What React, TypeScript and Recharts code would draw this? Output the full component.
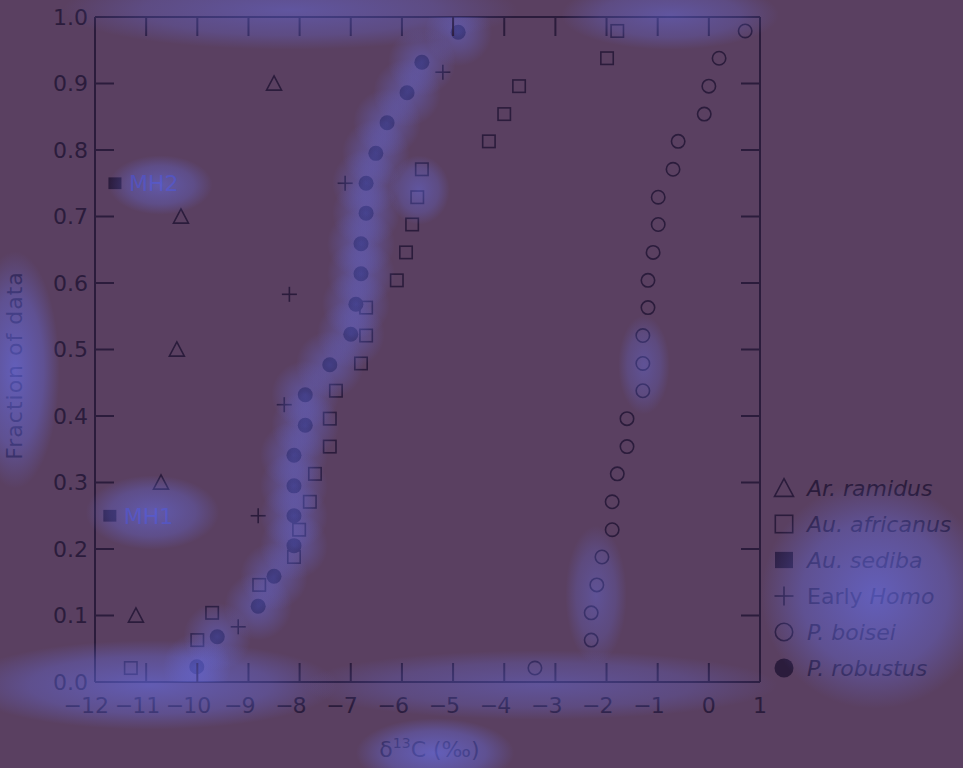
import React from 'react';
import { ScatterChart, Scatter, XAxis, YAxis, Legend } from 'recharts';

const INK = '#2b1c3c';
const BG = '#5a4061';
const FONT = '"DejaVu Sans", sans-serif';

const xTicks = [-12, -11, -10, -9, -8, -7, -6, -5, -4, -3, -2, -1, 0, 1];
const yTicks = [0, 0.1, 0.2, 0.3, 0.4, 0.5, 0.6, 0.7, 0.8, 0.9, 1.0];

const ramidusX = [-11.2, -10.71, -10.4, -10.32, -8.5];
const ramidusY = [0.1, 0.3, 0.5, 0.7, 0.9];

const africanusX = [-11.3, -10.0, -9.71, -8.79, -8.11, -8.01, -7.8, -7.7, -7.41, -7.41, -7.29, -6.8, -6.7, -6.7, -6.1, -5.92, -5.8, -5.7, -5.61, -4.3, -4.0, -3.71, -1.99, -1.79];
const africanusY = [0.021, 0.063, 0.104, 0.146, 0.188, 0.229, 0.271, 0.313, 0.354, 0.396, 0.438, 0.479, 0.521, 0.563, 0.604, 0.646, 0.688, 0.729, 0.771, 0.813, 0.854, 0.896, 0.938, 0.979];

const sedibaX = [-11.71, -11.61];
const sedibaY = [0.25, 0.75];
const sedibaNames = ['MH1', 'MH2'];

const homoX = [-9.2, -8.81, -8.3, -8.2, -7.11, -5.2];
const homoY = [0.083, 0.25, 0.417, 0.583, 0.75, 0.917];

const boiseiX = [-3.4, -2.3, -2.3, -2.19, -2.09, -1.89, -1.89, -1.79, -1.6, -1.6, -1.29, -1.29, -1.29, -1.19, -1.19, -1.09, -0.99, -0.99, -0.7, -0.6, -0.09, 0.0, 0.2, 0.71];
const boiseiY = [0.021, 0.063, 0.104, 0.146, 0.188, 0.229, 0.271, 0.313, 0.354, 0.396, 0.438, 0.479, 0.521, 0.563, 0.604, 0.646, 0.688, 0.729, 0.771, 0.813, 0.854, 0.896, 0.938, 0.979];

const robustusX = [-10.01, -9.61, -8.81, -8.5, -8.11, -8.11, -8.11, -8.11, -7.89, -7.89, -7.41, -7.0, -6.9, -6.8, -6.8, -6.7, -6.7, -6.51, -6.29, -5.9, -5.61, -4.9];
const robustusY = [0.023, 0.068, 0.114, 0.159, 0.205, 0.25, 0.295, 0.341, 0.386, 0.432, 0.477, 0.523, 0.568, 0.614, 0.659, 0.705, 0.75, 0.795, 0.841, 0.886, 0.932, 0.977];

const toPts = (xs: number[], ys: number[], names?: string[]) =>
  xs.map((x, i) => ({ x, y: ys[i], name: names ? names[i] : undefined }));

const ramidusData = toPts(ramidusX, ramidusY);
const africanusData = toPts(africanusX, africanusY);
const sedibaData = toPts(sedibaX, sedibaY, sedibaNames);
const homoData = toPts(homoX, homoY);
const boiseiData = toPts(boiseiX, boiseiY);
const robustusData = toPts(robustusX, robustusY);

type Kind = 'triangle' | 'square' | 'fsquare' | 'plus' | 'circle' | 'fcircle';

function drawSymbol(kind: Kind, cx: number, cy: number, s: number, color: string = INK) {
  const h = s / 2;
  const sw = 1.6;
  switch (kind) {
    case 'triangle': {
      const th = s * 0.88;
      const pts = `${cx},${cy - th / 2 - 1} ${cx + h},${cy + th / 2} ${cx - h},${cy + th / 2}`;
      return <polygon points={pts} fill="none" stroke={color} strokeWidth={sw} strokeLinejoin="miter" />;
    }
    case 'square':
      return <rect x={cx - h + 0.8} y={cy - h + 0.8} width={s - 1.6} height={s - 1.6} fill="none" stroke={color} strokeWidth={sw} />;
    case 'fsquare':
      return <rect x={cx - h} y={cy - h * 0.9} width={s} height={s * 0.9} fill={color} />;
    case 'plus':
      return (
        <g stroke={color} strokeWidth={sw}>
          <line x1={cx - h} x2={cx + h} y1={cy} y2={cy} />
          <line x1={cx} x2={cx} y1={cy - h} y2={cy + h} />
        </g>
      );
    case 'circle':
      return <circle cx={cx} cy={cy} r={h - 0.8} fill="none" stroke={color} strokeWidth={sw} />;
    case 'fcircle':
      return <circle cx={cx} cy={cy} r={h} fill={color} />;
  }
  return null;
}

const mkShape = (kind: Kind, size: number) => (p: any) => {
  if (p.cx == null || p.cy == null) return <g />;
  return <g>{drawSymbol(kind, p.cx, p.cy, size)}</g>;
};

const sedibaShape = (p: any) => {
  if (p.cx == null || p.cy == null) return <g />;
  const name = p.payload && p.payload.name;
  return (
    <g>
      {drawSymbol('fsquare', p.cx, p.cy, 13)}
      <text x={p.cx + 14} y={p.cy} dy="0.36em" fill="#4a44a0" fontSize={22} fontFamily={FONT}>
        {name}
      </text>
    </g>
  );
};

const glowShape = (p: any) => {
  if (p.cx == null || p.cy == null) return <g />;
  return <circle cx={p.cx} cy={p.cy} r={34} fill="url(#glowGrad)" />;
};

const LeftTick = (props: any) => {
  const { x, y, payload } = props;
  return (
    <g>
      <line x1={x} x2={x + 19} y1={y} y2={y} stroke={INK} strokeWidth={2} />
      <text x={x - 7} y={y} dy="0.36em" textAnchor="end" fill={INK} fontSize={22} fontFamily={FONT}>
        {Number(payload.value).toFixed(1)}
      </text>
    </g>
  );
};

const RightTick = (props: any) => {
  const { x, y } = props;
  return <line x1={x} x2={x - 19} y1={y} y2={y} stroke={INK} strokeWidth={2} />;
};

const TopTick = (props: any) => {
  const { x, y } = props;
  return <line x1={x} x2={x} y1={y} y2={y + 19} stroke={INK} strokeWidth={2} />;
};

const BottomTick = (props: any) => {
  const { x, y, payload } = props;
  const v = Number(payload.value);
  const digits = String(Math.abs(v));
  const dw = digits.length * 14;
  return (
    <g>
      <line x1={x} x2={x} y1={y} y2={y - 19} stroke={INK} strokeWidth={2} />
      <text x={x} y={y + 31} textAnchor="middle" fill={INK} fontSize={22} fontFamily={FONT}>
        {digits}
      </text>
      {v < 0 ? (
        <text x={x - dw / 2 + 1} y={y + 31} textAnchor="end" fill={INK} fontSize={22} fontFamily={FONT}>
          {'\u2212'}
        </text>
      ) : null}
    </g>
  );
};

const XLabel = (props: any) => {
  const vb = props.viewBox || {};
  const cx = vb.x + vb.width / 2 + 2;
  return (
    <text x={cx} y={757} textAnchor="middle" fill={INK} fontSize={22} fontFamily={FONT}>
      {'\u03B4'}
      <tspan fontSize={14} dy={-9}>13</tspan>
      <tspan dy={9}>C (‰)</tspan>
    </text>
  );
};

const YLabel = (props: any) => {
  const vb = props.viewBox || {};
  const cy = vb.y + vb.height / 2 + 16;
  return (
    <text x={22} y={cy} transform={`rotate(-90 22 ${cy})`} textAnchor="middle" fill={INK} fontSize={22} letterSpacing={1} fontFamily={FONT}>
      Fraction of data
    </text>
  );
};

const legendItems: { kind: Kind; parts: { t: string; i: boolean }[] }[] = [
  { kind: 'triangle', parts: [{ t: 'Ar. ramidus', i: true }] },
  { kind: 'square', parts: [{ t: 'Au. africanus', i: true }] },
  { kind: 'fsquare', parts: [{ t: 'Au. sediba', i: true }] },
  { kind: 'plus', parts: [{ t: 'Early ', i: false }, { t: 'Homo', i: true }] },
  { kind: 'circle', parts: [{ t: 'P. boisei', i: true }] },
  { kind: 'fcircle', parts: [{ t: 'P. robustus', i: true }] },
];

const renderLegend = () => (
  <div style={{ fontFamily: FONT, fontSize: 22, color: INK }}>
    {legendItems.map((it, k) => (
      <div key={k} style={{ height: 36, display: 'flex', alignItems: 'center', whiteSpace: 'nowrap' }}>
        <svg width={37} height={36} style={{ flex: 'none' }}>
          {drawSymbol(it.kind, 14, 18, it.kind === 'fsquare' ? 18 : 19)}
        </svg>
        <span>
          {it.parts.map((p, j) => (
            <span key={j} style={{ fontStyle: p.i ? 'italic' : 'normal' }}>{p.t}</span>
          ))}
        </span>
      </div>
    ))}
  </div>
);

// decorative highlight haze seen in the reference (not data)
const hazes = [
  { l: 760, t: 480, w: 230, h: 230, o: 0.6 },
  { l: -40, t: 640, w: 380, h: 90, o: 0.55 },
  { l: 300, t: 650, w: 480, h: 70, o: 0.38 },
  { l: 60, t: -30, w: 460, h: 80, o: 0.42 },
  { l: 560, t: -20, w: 220, h: 70, o: 0.42 },
  { l: -30, t: 250, w: 90, h: 240, o: 0.6 },
  { l: 355, t: 718, w: 160, h: 70, o: 0.6 },
  { l: 85, t: 475, w: 135, h: 75, o: 0.5 },
  { l: 108, t: 155, w: 105, h: 60, o: 0.48 },
  { l: 565, t: 525, w: 62, h: 140, o: 0.36 },
  { l: 618, t: 315, w: 52, h: 100, o: 0.36 },
  { l: 388, t: 155, w: 62, h: 70, o: 0.42 },
];

export default function App() {
  return (
    <div style={{ position: 'fixed', left: 0, top: 0, width: 963, height: 768, background: BG, overflow: 'hidden' }}>
      <svg width={0} height={0} style={{ position: 'absolute' }}>
        <defs>
          <radialGradient id="glowGrad">
            <stop offset="0%" stopColor="rgb(105,115,245)" stopOpacity={0.4} />
            <stop offset="50%" stopColor="rgb(105,115,245)" stopOpacity={0.22} />
            <stop offset="100%" stopColor="rgb(105,115,245)" stopOpacity={0} />
          </radialGradient>
        </defs>
      </svg>
      <ScatterChart width={963} height={768} margin={{ top: 16, right: 202, bottom: 0, left: 0 }}>
        <XAxis
          type="number"
          dataKey="x"
          domain={[-12, 1]}
          ticks={xTicks}
          allowDataOverflow
          height={86}
          tickSize={0}
          tickMargin={0}
          tick={BottomTick}
          axisLine={{ stroke: INK, strokeWidth: 2 }}
          label={XLabel}
        />
        <XAxis
          xAxisId="top"
          orientation="top"
          type="number"
          dataKey="x"
          domain={[-12, 1]}
          ticks={xTicks}
          allowDataOverflow
          height={1}
          tickSize={0}
          tickMargin={0}
          tick={TopTick}
          axisLine={{ stroke: INK, strokeWidth: 2 }}
        />
        <YAxis
          type="number"
          dataKey="y"
          domain={[0, 1]}
          ticks={yTicks}
          allowDataOverflow
          width={95}
          tickSize={0}
          tickMargin={0}
          tick={LeftTick}
          axisLine={{ stroke: INK, strokeWidth: 2 }}
          label={YLabel}
        />
        <YAxis
          yAxisId="right"
          orientation="right"
          type="number"
          dataKey="y"
          domain={[0, 1]}
          ticks={yTicks}
          allowDataOverflow
          width={1}
          tickSize={0}
          tickMargin={0}
          tick={RightTick}
          axisLine={{ stroke: INK, strokeWidth: 2 }}
        />
        <Legend
          layout="vertical"
          align="center"
          verticalAlign="middle"
          content={renderLegend}
          wrapperStyle={{ position: 'absolute', left: 770, top: 470, width: 193, height: 216 }}
        />
        <Scatter name="Ar. ramidus" data={ramidusData} shape={mkShape('triangle', 15)} isAnimationActive={false} />
        <Scatter name="Au. africanus" data={africanusData} shape={mkShape('square', 14)} isAnimationActive={false} />
        <Scatter name="Au. sediba" data={sedibaData} shape={sedibaShape} isAnimationActive={false} />
        <Scatter name="Early Homo" data={homoData} shape={mkShape('plus', 15)} isAnimationActive={false} />
        <Scatter name="P. boisei" data={boiseiData} shape={mkShape('circle', 15)} isAnimationActive={false} />
        <Scatter name="P. robustus" data={robustusData} shape={mkShape('fcircle', 15)} isAnimationActive={false} />
        <Scatter
          name="glow"
          legendType="none"
          xAxisId="top"
          yAxisId="right"
          data={robustusData}
          shape={glowShape}
          isAnimationActive={false}
        />
      </ScatterChart>
      {hazes.map((z, i) => (
        <div
          key={i}
          style={{
            position: 'absolute',
            left: z.l,
            top: z.t,
            width: z.w,
            height: z.h,
            pointerEvents: 'none',
            background: `radial-gradient(ellipse at center, rgba(105,115,245,${z.o}) 0%, rgba(105,115,245,${z.o * 0.55}) 45%, rgba(105,115,245,0) 70%)`,
          }}
        />
      ))}
    </div>
  );
}
